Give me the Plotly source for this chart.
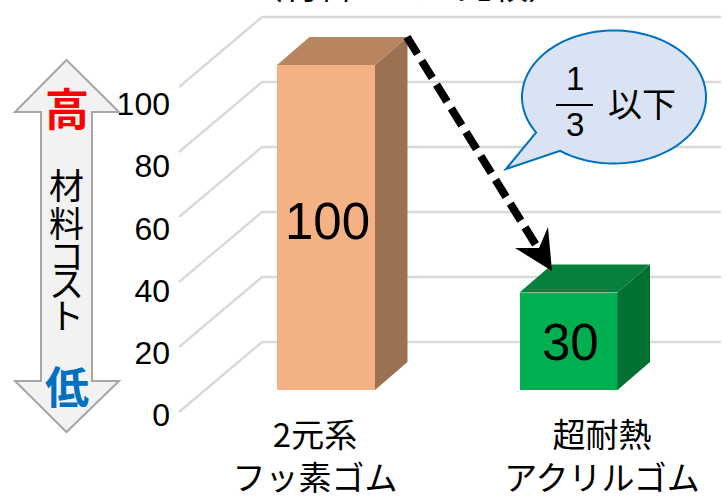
import numpy as np
import plotly.graph_objects as go

categories = ["2元系<br>フッ素ゴム", "超耐熱<br>アクリルゴム"]
values = [100, 30]
value_text = ["100", "30"]
front_colors = ["#F4B183", "#00B050"]
top_colors = ["#B98561", "#05813D"]
side_colors = ["#9C7152", "#026F33"]
tick_values = [0, 20, 40, 60, 80, 100]
tick_labels = ["0", "20", "40", "60", "80", "100"]

W, H = 726, 501
CJK = "Noto Sans CJK JP"
LAT = "Liberation Sans"

# scale: pixel geometry of the main axes
X0_PX, X_STEP = 326.0, 242.5
Y0_PX, Y_UNIT = 390.0, 3.25
xr = [(0 - X0_PX) / X_STEP, (W - X0_PX) / X_STEP]
yr = [(Y0_PX - H) / Y_UNIT, Y0_PX / Y_UNIT]

BAR_W = 98 / X_STEP
DX, DY = 32.5 / X_STEP, 28 / Y_UNIT        # bar depth
GX, GY = 83 / X_STEP, 70 / Y_UNIT          # floor depth
GRID_FRONT = (179 - X0_PX) / X_STEP
GRID_END = (721 - X0_PX) / X_STEP
GRID_FRONT_DY = -22 / Y_UNIT


def px(x):
    return x / W


def py(y):
    return 1 - y / H


def path(points, close=True):
    s = "M " + " L ".join(f"{px(a):.5f},{py(b):.5f}" for a, b in points)
    return s + (" Z" if close else "")


fig = go.Figure()

# floor + wall gridlines (main axes, drawn beneath the bar axes)
back_x = GRID_FRONT + GX
for v in tick_values:
    fig.add_trace(go.Scatter(
        x=[GRID_FRONT, back_x, GRID_END],
        y=[v + GRID_FRONT_DY, v + GRID_FRONT_DY + GY, v + GRID_FRONT_DY + GY],
        mode="lines", line=dict(color="#D9D9D9", width=2.4),
        hoverinfo="skip", showlegend=False))

# bars: front through go.Bar, top and side as filled polygons, on overlay axes
fig.add_trace(go.Bar(
    x=[0, 1], y=values, width=BAR_W, xaxis="x3", yaxis="y3",
    marker=dict(color=front_colors, line=dict(width=0)),
    hoverinfo="skip", showlegend=False))
for i, v in enumerate(values):
    l, r = i - BAR_W / 2, i + BAR_W / 2
    fig.add_trace(go.Scatter(
        x=[l, l + DX, r + DX, r, l], y=[v, v + DY, v + DY, v, v], xaxis="x3", yaxis="y3",
        mode="lines", fill="toself", fillcolor=top_colors[i],
        line=dict(width=0), hoverinfo="skip", showlegend=False))
    fig.add_trace(go.Scatter(
        x=[r, r + DX, r + DX, r, r], y=[0, DY, v + DY, v, 0], xaxis="x3", yaxis="y3",
        mode="lines", fill="toself", fillcolor=side_colors[i],
        line=dict(width=0), hoverinfo="skip", showlegend=False))

# tick-label axes (labels sit on their own scale, offset from the bar scale)
T0, T100 = 415.0, 104.0
tunit = (T0 - T100) / 100
y2r = [(T0 - H) / tunit, T0 / tunit]
C0, C1 = 315.0, 602.0
cstep = C1 - C0
x2r = [(0 - C0) / cstep, (W - C0) / cstep]
fig.add_trace(go.Scatter(x=[0, 1], y=[0, 100], xaxis="x2", yaxis="y2", mode="markers",
                         marker=dict(opacity=0), hoverinfo="skip", showlegend=False))

fig.update_layout(
    width=W, height=H, autosize=False,
    margin=dict(l=0, r=0, t=0, b=0), paper_bgcolor="white", plot_bgcolor="rgba(0,0,0,0)",
    showlegend=False, bargap=0,
    xaxis=dict(range=xr, visible=False, fixedrange=True),
    yaxis=dict(range=yr, visible=False, fixedrange=True),
    xaxis3=dict(range=xr, visible=False, fixedrange=True, overlaying="x"),
    yaxis3=dict(range=yr, visible=False, fixedrange=True, overlaying="y"),
    xaxis2=dict(range=x2r, overlaying="x", anchor="free", position=py(413), side="bottom",
                tickvals=[0, 1], ticktext=categories, showgrid=False, zeroline=False,
                showline=False, ticks="", tickfont=dict(family=CJK, size=33, color="#000000")),
    yaxis2=dict(range=y2r, overlaying="y", anchor="free", position=px(170), side="left",
                tickvals=tick_values, ticktext=tick_labels, showgrid=False, zeroline=False,
                showline=False, ticks="", tickfont=dict(family=LAT, size=32, color="#000000")),
)

shapes = []
# double arrow
dbl = [(66.5, 60), (119, 112), (92, 112), (92, 381), (119, 381), (66.5, 432),
       (15, 381), (41, 381), (41, 112), (15, 112)]
shapes.append(dict(type="path", xref="paper", yref="paper", path=path(dbl),
                   fillcolor="#F2F2F2", line=dict(color="#A6A6A6", width=2)))
# callout
cx, cy, rx, ry = 614, 97, 92, 66.5
a1 = np.arctan2((132 - cy) / ry, (537 - cx) / rx) % (2 * np.pi)
a2 = np.arctan2((151 - cy) / ry, (560 - cx) / rx) % (2 * np.pi)
ang = np.linspace(a1, a2 + 2 * np.pi, 120)
pts = [(cx + rx * np.cos(a), cy + ry * np.sin(a)) for a in ang] + [(506, 169)]
shapes.append(dict(type="path", xref="paper", yref="paper", path=path(pts),
                   fillcolor="#DAE3F3", line=dict(color="#0070C0", width=2)))
# fraction bar
shapes.append(dict(type="line", xref="paper", yref="paper", x0=px(556), x1=px(593),
                   y0=py(105), y1=py(105), line=dict(color="#000000", width=2)))
# dashed arrow
shapes.append(dict(type="line", xref="paper", yref="paper", x0=px(407), y0=py(37), x1=px(539), y1=py(250),
                   line=dict(color="#000000", width=8, dash="20px,8px")))
shapes.append(dict(type="path", xref="paper", yref="paper",
                   path=path([(552, 271), (548, 227), (539, 248), (515, 248)]),
                   fillcolor="#000000", line=dict(width=0)))
fig.update_layout(shapes=shapes)

ann = [
    ("高", 66.5, 107, 44, "#FF0000", CJK, True),
    ("低", 66.5, 385, 44, "#0070C0", CJK, True),
    ("材", 66, 183, 35, "#000000", CJK, False),
    ("料", 66, 222, 35, "#000000", CJK, False),
    ("コ", 66, 254, 35, "#000000", CJK, False),
    ("ス", 66, 281, 35, "#000000", CJK, False),
    ("ト", 66, 313, 35, "#000000", CJK, False),
    ("1", 575, 78, 33, "#000000", LAT, False),
    ("3", 575, 124, 33, "#000000", LAT, False),
    ("以下", 642, 102, 34, "#000000", CJK, False),
    ("（材料コスト比較）", 405, -16.5, 35, "#000000", CJK, False),
]
annotations = [
    dict(text=f"<b>{s}</b>" if b else s, x=px(x), y=py(y), xref="paper", yref="paper",
         showarrow=False, xanchor="center", yanchor="middle", borderpad=0,
         font=dict(family=f, size=z, color=c))
    for s, x, y, z, c, f, b in ann]
# value labels, placed from the data
for i, (v, s, xs, ys) in enumerate(zip(values, value_text, [1, 2], [6, -1])):
    annotations.append(dict(text=s, x=i, y=v / 2, xref="x3", yref="y3", showarrow=False,
                            xshift=xs, yshift=ys, xanchor="center", yanchor="middle",
                            font=dict(family=LAT, size=51, color="#000000")))
fig.update_layout(annotations=annotations)

page_css = (
    "var s=document.createElement('style');"
    "s.textContent='html,body{margin:0;padding:0;width:726px;height:501px;overflow:hidden}"
    ".plotly-graph-div,.plot-container,.svg-container{display:block;overflow:hidden !important;"
    "width:726px !important;height:501px !important}';"
    "document.head.appendChild(s);"
)
fig.write_html("out.html", config={"displayModeBar": False}, post_script=page_css)
